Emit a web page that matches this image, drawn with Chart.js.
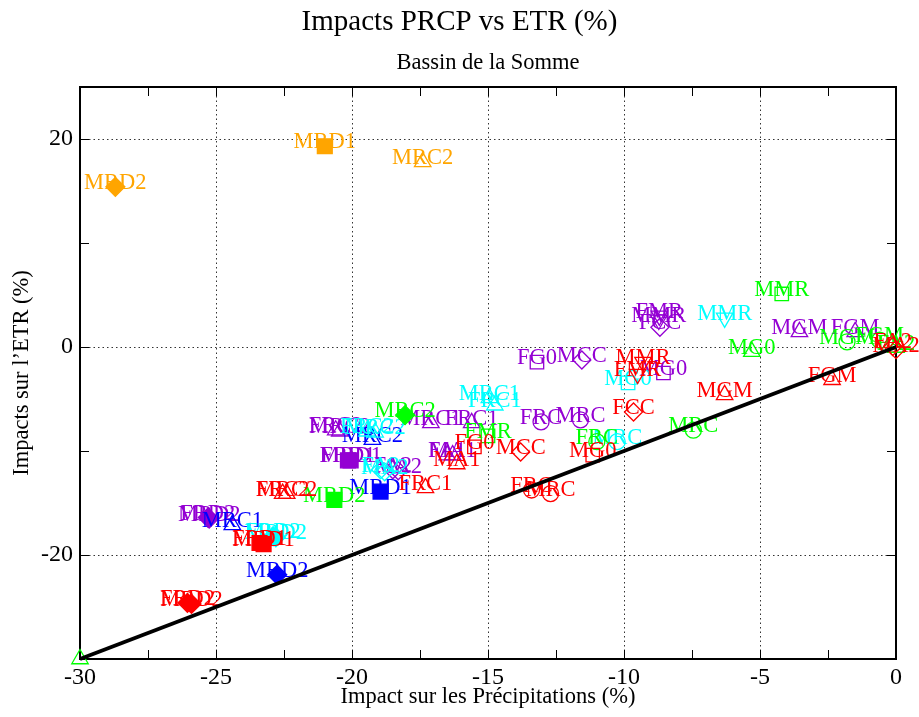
<!DOCTYPE html>
<html lang="fr">
<head>
<meta charset="UTF-8">
<title>Impacts PRCP vs ETR (%)</title>
<script src="https://cdn.jsdelivr.net/npm/chart.js"></script>
<style>
  html, body { margin: 0; padding: 0; background: #fff; }
  #chart { display: block; }
</style>
</head>
<body>
<canvas id="chart" width="919" height="717"></canvas>
<script>
// Impact on precipitation (x, %) vs impact on ETR (y, %) per method, one set per model
const orangeNames = ['MRD2', 'MRD1', 'MRC2'];
const orangeX = [-28.7, -21.0, -17.4];
const orangeY = [15.4, 19.3, 17.8];

const purpleNames = ['FRD2', 'MRD2', 'FRC2', 'MRC2', 'FRD1', 'MRD1', 'FA2', 'MA2', 'MRC1', 'FRC1', 'FA1', 'MA1',
                     'FG0', 'MCC', 'FRC', 'MRC', 'MG0', 'FMR', 'MMR', 'FCC', 'MGM', 'FGM'];
const purpleX = [-25.3, -25.25, -20.6, -20.45, -20.15, -20.05, -18.5, -18.3, -17.1, -15.6, -16.5, -16.3,
                 -13.2, -11.55, -13.05, -11.6, -8.55, -8.7, -8.72, -8.68, -3.55, -1.5];
const purpleY = [-16.4, -16.5, -8.0, -8.1, -10.9, -10.9, -11.8, -11.9, -7.3, -7.3, -10.4, -10.4,
                 -1.45, -1.25, -7.2, -7.0, -2.5, 3.0, 2.6, 1.9, 1.45, 1.45];

const blueNames = ['MRC1', 'MRD2', 'MRC2', 'MRD1'];
const blueX = [-24.4, -22.75, -19.25, -18.95];
const blueY = [-17.1, -21.9, -8.9, -13.9];

const cyanNames = ['FRD2', 'MRD2', 'FRC2', 'MRC2', 'FA2', 'MA2', 'MRC1', 'FRC1', 'MRC', 'MG0', 'MMR'];
const cyanX = [-22.9, -22.8, -19.45, -19.15, -18.95, -18.8, -14.95, -14.75, -10.25, -9.85, -6.3];
const cyanY = [-18.2, -18.3, -8.1, -8.2, -11.8, -12.0, -4.9, -5.6, -9.1, -3.45, 2.8];

const greenNames = ['', 'MRD2', 'MRC2', 'FMR', 'FRC', 'MRC', 'MG0', 'MMR', 'MGM', 'FGM', 'FA2'];
const greenX = [-30, -20.65, -18.05, -15.0, -11.0, -7.45, -5.3, -4.2, -1.8, -0.6, 0.0];
const greenY = [-30, -14.7, -6.55, -8.55, -9.1, -8.0, -0.45, 5.1, 0.5, 0.65, -0.05];

const redNames = ['FRD2', 'MRD2', 'FRD1', 'MRD1', 'FRC2', 'MRC2', 'FRC1', 'MA1', 'FG0', 'MCC', 'FRC', 'MRC',
                  'MG0', 'FCC', 'FMR', 'MMR', 'MGM', 'FGM', 'FA2', 'MA2'];
const redX = [-26.05, -25.9, -23.4, -23.25, -22.55, -22.4, -17.3, -16.15, -15.5, -13.8, -13.4, -12.7,
              -11.15, -9.65, -9.5, -9.3, -6.3, -2.35, -0.12, 0.0];
const redY = [-24.6, -24.7, -18.85, -18.95, -14.1, -14.1, -13.55, -11.25, -9.6, -10.1, -13.75, -14.1,
              -10.4, -6.25, -2.6, -1.45, -4.6, -3.15, 0.05, -0.25];

// 1:1 reference line
const diagX = [-30, 0];
const diagY = [-30, 0];

const xTicks = [-30, -27.5, -25, -22.5, -20, -17.5, -15, -12.5, -10, -7.5, -5, -2.5, 0];
const yTicks = [-30, -20, -10, 0, 10, 20];
const xGrid = [-25, -20, -15, -10, -5];
const yGrid = [-20, 0, 20];

// marker per point (sqF filled square, diF filled diamond, tri/itr triangle up/down, cir circle, dia diamond, sq square)
const orangeMarks = ['diF', 'sqF', 'tri'];
const purpleMarks = ['diF', 'diF', 'tri', 'tri', 'sqF', 'sqF', 'dia', 'dia', 'tri', 'tri', 'tri', 'tri',
                     'sq', 'dia', 'cir', 'cir', 'sq', 'itr', 'itr', 'dia', 'tri', 'tri'];
const blueMarks = ['tri', 'diF', 'tri', 'sqF'];
const cyanMarks = ['diF', 'diF', 'tri', 'tri', 'dia', 'dia', 'tri', 'tri', 'cir', 'sq', 'itr'];
const greenMarks = ['tri', 'sqF', 'diF', 'sq', 'cir', 'cir', 'tri', 'sq', 'cir', 'cir', 'tri'];
const redMarks = ['diF', 'diF', 'sqF', 'sqF', 'tri', 'tri', 'tri', 'tri', 'sq', 'dia', 'cir', 'cir',
                  'sq', 'dia', 'itr', 'itr', 'tri', 'tri', 'dia', 'dia'];

const markStyle = {
  sqF: { style: 'rect', r: 10.5, fill: true, rot: 0 },
  diF: { style: 'rectRot', r: 9.5, fill: true, rot: 0 },
  tri: { style: 'triangle', r: 9.5, fill: false, rot: 0 },
  itr: { style: 'triangle', r: 9.5, fill: false, rot: 180 },
  cir: { style: 'circle', r: 8, fill: false, rot: 0 },
  dia: { style: 'rectRot', r: 9, fill: false, rot: 0 },
  sq:  { style: 'rect', r: 9.5, fill: false, rot: 0 }
};

const SERIF = '"Liberation Serif", "DejaVu Serif", serif';

function pts(xs, ys) {
  return xs.map((x, i) => ({ x: x, y: ys[i] }));
}

function series(names, xs, ys, marks, color) {
  return {
    type: 'scatter',
    names: names,
    data: pts(xs, ys),
    clip: false,
    borderColor: color,
    pointBorderColor: color,
    pointBorderWidth: 1.3,
    pointStyle: c => markStyle[marks[c.dataIndex]].style,
    pointRadius: c => markStyle[marks[c.dataIndex]].r,
    pointRotation: c => markStyle[marks[c.dataIndex]].rot,
    pointBackgroundColor: c => markStyle[marks[c.dataIndex]].fill ? color : 'rgba(0,0,0,0)'
  };
}

// frame, dotted grid, inward ticks, point labels and titles
const decor = {
  id: 'decor',
  beforeDatasetsDraw(chart) {
    const { ctx, chartArea: a, scales: { x, y } } = chart;
    ctx.save();
    ctx.strokeStyle = '#333';
    ctx.lineWidth = 1;
    ctx.setLineDash([1.5, 3]);
    ctx.beginPath();
    xGrid.forEach(v => {
      const px = Math.round(x.getPixelForValue(v)) + 0.5;
      ctx.moveTo(px, a.top); ctx.lineTo(px, a.bottom);
    });
    yGrid.forEach(v => {
      const py = Math.round(y.getPixelForValue(v)) + 0.5;
      ctx.moveTo(a.left, py); ctx.lineTo(a.right, py);
    });
    ctx.stroke();
    ctx.setLineDash([]);

    ctx.strokeStyle = '#000';
    ctx.lineWidth = 1;
    ctx.beginPath();
    const tl = 9;
    xTicks.forEach(v => {
      const px = Math.round(x.getPixelForValue(v)) + 0.5;
      ctx.moveTo(px, a.bottom); ctx.lineTo(px, a.bottom - tl);
      ctx.moveTo(px, a.top); ctx.lineTo(px, a.top + tl);
    });
    yTicks.forEach(v => {
      const py = Math.round(y.getPixelForValue(v)) + 0.5;
      ctx.moveTo(a.left, py); ctx.lineTo(a.left + tl, py);
      ctx.moveTo(a.right, py); ctx.lineTo(a.right - tl, py);
    });
    ctx.stroke();

    ctx.lineWidth = 2;
    ctx.strokeRect(a.left, a.top, a.right - a.left, a.bottom - a.top);
    ctx.restore();
  },
  beforeDatasetDraw(chart, args) {
    const ds = chart.data.datasets[args.index];
    if (!ds.names) return;
    const ctx = chart.ctx;
    ctx.save();
    ctx.font = '22.5px ' + SERIF;
    ctx.fillStyle = ds.borderColor;
    ctx.textAlign = 'center';
    ctx.textBaseline = 'alphabetic';
    args.meta.data.forEach((el, i) => {
      if (ds.names[i]) ctx.fillText(ds.names[i], el.x, el.y + 2);
    });
    ctx.restore();
  },
  afterDraw(chart) {
    const { ctx, chartArea: a } = chart;
    ctx.save();
    ctx.fillStyle = '#000';
    ctx.textAlign = 'center';
    ctx.textBaseline = 'middle';
    ctx.font = '29px ' + SERIF;
    ctx.fillText('Impacts PRCP vs ETR (%)', chart.width / 2, 22);
    ctx.font = '22.5px ' + SERIF;
    ctx.fillText('Bassin de la Somme', (a.left + a.right) / 2, 63);
    ctx.fillText('Impact sur les Précipitations (%)', (a.left + a.right) / 2, 697);
    ctx.translate(22, (a.top + a.bottom) / 2);
    ctx.rotate(-Math.PI / 2);
    ctx.fillText('Impacts sur l’ETR (%)', 0, 0);
    ctx.restore();
  }
};

new Chart(document.getElementById('chart'), {
  data: {
    datasets: [
      {
        type: 'line',
        data: pts(diagX, diagY),
        borderColor: '#000',
        borderWidth: 4,
        pointRadius: 0,
        clip: false
      },
      series(redNames, redX, redY, redMarks, '#ff0000'),
      series(greenNames, greenX, greenY, greenMarks, '#00ff00'),
      series(cyanNames, cyanX, cyanY, cyanMarks, '#00ffff'),
      series(blueNames, blueX, blueY, blueMarks, '#0000ff'),
      series(purpleNames, purpleX, purpleY, purpleMarks, '#9400d3'),
      series(orangeNames, orangeX, orangeY, orangeMarks, '#ffa500')
    ]
  },
  options: {
    responsive: false,
    animation: false,
    events: [],
    layout: { padding: { top: 87, right: 23, left: 0, bottom: 0 } },
    plugins: { legend: { display: false }, tooltip: { enabled: false } },
    scales: {
      x: {
        type: 'linear',
        min: -30, max: 0,
        afterBuildTicks: s => { s.ticks = xTicks.map(v => ({ value: v })); },
        afterFit: s => { s.height = 58; },
        grid: { display: false, drawTicks: false },
        border: { display: false },
        ticks: {
          padding: 4,
          autoSkip: false,
          maxRotation: 0,
          color: '#000',
          font: { family: SERIF, size: 24 },
          callback: v => (v % 5 === 0 ? String(v) : '')
        }
      },
      y: {
        type: 'linear',
        min: -30, max: 25,
        afterBuildTicks: s => { s.ticks = yTicks.map(v => ({ value: v })); },
        afterFit: s => { s.width = 80; },
        grid: { display: false, drawTicks: false },
        border: { display: false },
        ticks: {
          padding: 7,
          autoSkip: false,
          color: '#000',
          font: { family: SERIF, size: 24 },
          callback: v => (yGrid.includes(v) ? String(v) : '')
        }
      }
    }
  },
  plugins: [decor]
});
</script>
</body>
</html>
